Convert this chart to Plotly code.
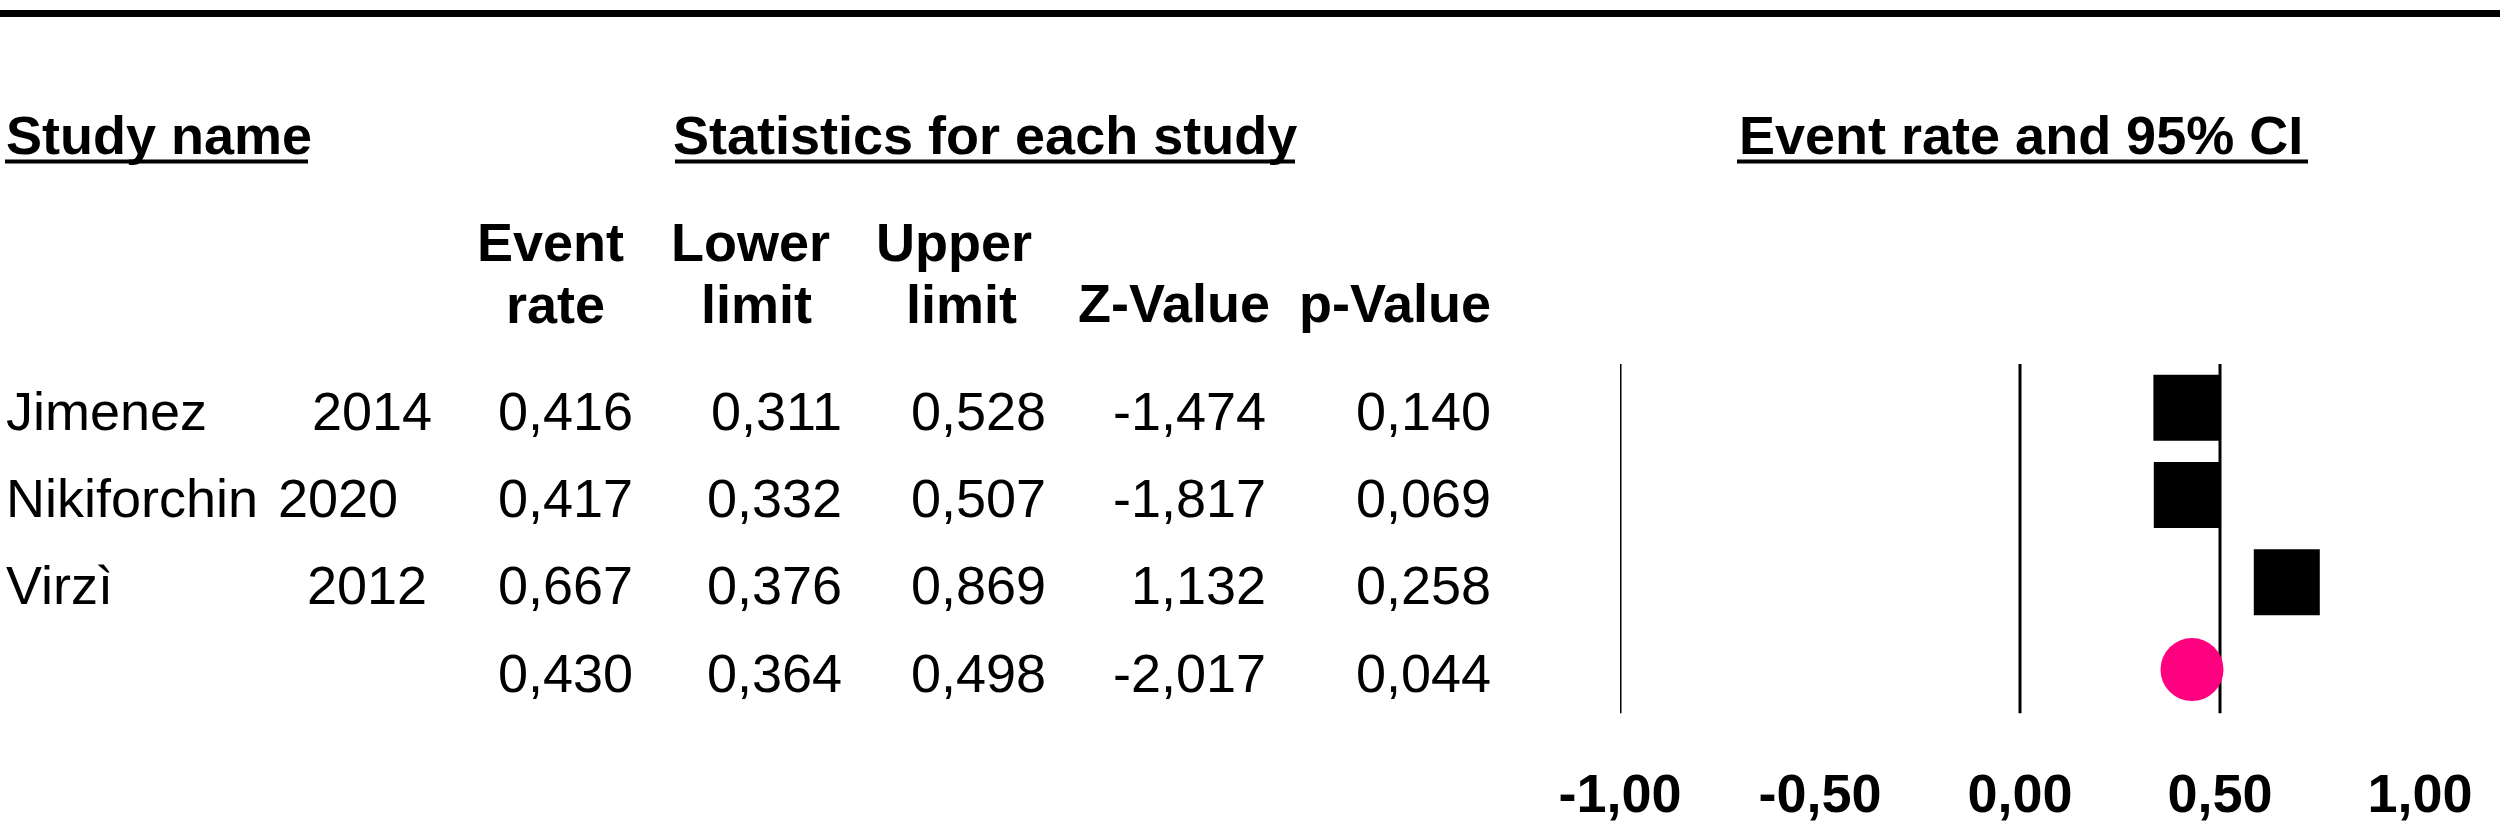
import plotly.graph_objects as go

# ---------------- data ----------------
study_names = ["Jimenez", "Nikiforchin", "Virzì"]
study_years = ["2014", "2020", "2012"]
event_rate = [0.416, 0.417, 0.667, 0.430]
lower_limit = [0.311, 0.332, 0.376, 0.364]
upper_limit = [0.528, 0.507, 0.869, 0.498]
z_value = [-1.474, -1.817, 1.132, -2.017]
p_value = [0.140, 0.069, 0.258, 0.044]
tick_vals = [-1.0, -0.5, 0.0, 0.5, 1.0]
tick_labels = ["-1,00", "-0,50", "0,00", "0,50", "1,00"]
ref_lines = [-1.0, 0.0, 0.5]

# ---------------- layout geometry (pixels) ----------------
W, H = 2500, 823
B = 66
plot_h = H - B
row0_px = 407.7
row_step = 87.3
y_top = -row0_px / row_step
y_bot = (plot_h - row0_px) / row_step
TEXT_DY = 3  # small downward nudge for text baselines

FONT = "Liberation Sans, Arial, sans-serif"
FS = 54


def xp(px):
    return px / W


def yp(py):
    return (plot_h - py) / plot_h


def fmt(v):
    return f"{v:.3f}".replace(".", ",")


fig = go.Figure()

n_studies = len(study_names)
rows = list(range(len(event_rate)))

fig.add_trace(go.Scatter(
    x=event_rate[:n_studies], y=rows[:n_studies], mode="markers",
    marker=dict(symbol="square", size=66, color="black", line=dict(width=0)),
    cliponaxis=False, hoverinfo="skip"))
fig.add_trace(go.Scatter(
    x=event_rate[n_studies:], y=rows[n_studies:], mode="markers",
    marker=dict(symbol="circle", size=63, color="rgb(255,0,128)", line=dict(width=0)),
    cliponaxis=False, hoverinfo="skip"))

shapes = []
for v in ref_lines:
    shapes.append(dict(type="line", xref="x", yref="y", x0=v, x1=v,
                       y0=rows[0] - 0.5, y1=rows[-1] + 0.5,
                       line=dict(color="black", width=3), layer="below"))
# top rule
shapes.append(dict(type="line", xref="paper", yref="paper", x0=0, x1=1,
                   y0=yp(13.5), y1=yp(13.5), line=dict(color="black", width=7)))
# header underlines
for a, b in [(5, 308), (675, 1295), (1737, 2308)]:
    shapes.append(dict(type="line", xref="paper", yref="paper", x0=xp(a), x1=xp(b),
                       y0=yp(161.5), y1=yp(161.5), line=dict(color="black", width=4)))

ann = []


def add_text(text, x_px, y, anchor="center", bold=False, yref="paper"):
    if yref == "paper":
        yv = yp(y + TEXT_DY)
    else:
        yv = y + TEXT_DY / row_step
    ann.append(dict(text=text, x=xp(x_px), xref="paper", y=yv, yref=yref,
                    xanchor=anchor, yanchor="middle", showarrow=False,
                    font=dict(family=FONT, size=FS, color="black",
                              weight=("bold" if bold else "normal"))))


# group headers
add_text("Study name", 4, 132, anchor="left", bold=True)
add_text("Statistics for each study", 985, 132, bold=True)
add_text("Event rate and 95% CI", 2021, 132, bold=True)
# column headers
add_text("Event", 550, 239, bold=True)
add_text("rate", 555, 301, bold=True)
add_text("Lower", 750, 239, bold=True)
add_text("limit", 756, 301, bold=True)
add_text("Upper", 954, 239, bold=True)
add_text("limit", 962, 301, bold=True)
add_text("Z-Value", 1174, 300, bold=True)
add_text("p-Value", 1395, 300, bold=True)

# study names / years
year_right = [434, 400, 429]
for i in range(n_studies):
    add_text(study_names[i], 4, rows[i], anchor="left", yref="y")
    add_text(study_years[i], year_right[i], rows[i], anchor="right", yref="y")

# statistics columns
col_right = [635, 844, 1048, 1268, 1493]
cols = [event_rate, lower_limit, upper_limit, z_value, p_value]
for c, vals in enumerate(cols):
    for i, v in enumerate(vals):
        add_text(fmt(v), col_right[c], rows[i], anchor="right", yref="y")

fig.update_layout(
    width=W, height=H, template="none",
    margin=dict(l=0, r=0, t=0, b=B, pad=0),
    paper_bgcolor="white", plot_bgcolor="white",
    showlegend=False, hovermode=False,
    shapes=shapes, annotations=ann,
    xaxis=dict(domain=[xp(1620), xp(2420)], range=[-1, 1],
               tickvals=tick_vals, ticktext=tick_labels,
               showgrid=False, zeroline=False, showline=False, ticks="",
               automargin=False, ticklabelstandoff=0,
               tickfont=dict(family=FONT, size=FS, color="black", weight="bold")),
    yaxis=dict(range=[y_bot, y_top], visible=False, showgrid=False,
               zeroline=False, automargin=False),
)

fig.write_html(
    "out.html",
    config={"displayModeBar": False},
    post_script="document.body.style.margin='0';document.body.style.overflow='hidden';",
)
